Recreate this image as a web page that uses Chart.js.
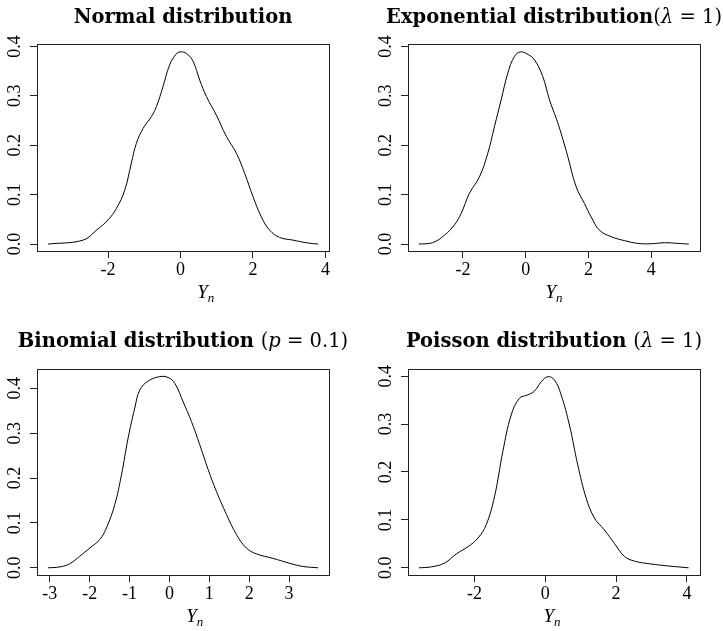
<!DOCTYPE html>
<html>
<head>
<meta charset="utf-8">
<script src="https://cdn.jsdelivr.net/npm/chart.js@4.4.0/dist/chart.umd.min.js"></script>
<style>
  html, body { margin: 0; padding: 0; background: #fff; }
  #wrap { position: relative; width: 723px; height: 631px; }
  #wrap canvas { position: absolute; }
</style>
</head>
<body>
<div id="wrap">
  <canvas id="c-normal" width="361" height="315" style="left:0;top:0"></canvas>
  <canvas id="c-exp" width="362" height="315" style="left:361px;top:0"></canvas>
  <canvas id="c-binom" width="361" height="316" style="left:0;top:315px"></canvas>
  <canvas id="c-pois" width="362" height="316" style="left:361px;top:315px"></canvas>
</div>
<script>
// density estimates
const normalX = [-3.655, -2.689, -2.321, -1.999, -1.769, -1.539, -1.355, -1.217, -1.033, -0.803, -0.665, -0.481, -0.297, -0.113, -0.012, 0.163, 0.347, 0.531, 0.715, 0.991, 1.267, 1.543, 1.773, 2.003, 2.233, 2.463, 2.739, 3.107, 3.477, 3.799];
const normalY = [0, 0.008, 0.028, 0.049, 0.072, 0.109, 0.164, 0.204, 0.234, 0.258, 0.278, 0.319, 0.363, 0.385, 0.389, 0.386, 0.370, 0.332, 0.299, 0.261, 0.218, 0.184, 0.143, 0.096, 0.055, 0.028, 0.0135, 0.008, 0.0027, 0];

const expX = [-3.405, -2.960, -2.588, -2.270, -2.057, -1.792, -1.474, -1.208, -0.996, -0.783, -0.571, -0.359, -0.168, 0.066, 0.278, 0.544, 0.756, 0.968, 1.127, 1.340, 1.605, 1.871, 2.083, 2.348, 2.720, 3.144, 3.569, 3.993, 4.418, 4.843, 5.193];
const expY = [0, 0.003, 0.018, 0.039, 0.062, 0.103, 0.136, 0.184, 0.238, 0.292, 0.346, 0.380, 0.389, 0.384, 0.373, 0.339, 0.292, 0.255, 0.224, 0.177, 0.116, 0.082, 0.055, 0.028, 0.015, 0.007, 0.0014, 0.0007, 0.0027, 0.0014, 0];

const binomX = [-3.042, -2.750, -2.499, -2.248, -1.997, -1.747, -1.579, -1.370, -1.203, -1.036, -0.869, -0.744, -0.535, -0.242, -0.033, 0.134, 0.343, 0.552, 0.761, 0.970, 1.179, 1.430, 1.681, 1.931, 2.182, 2.600, 3.018, 3.352, 3.728];
const binomY = [0, 0.002, 0.009, 0.026, 0.044, 0.063, 0.089, 0.141, 0.207, 0.289, 0.356, 0.396, 0.416, 0.426, 0.424, 0.411, 0.370, 0.326, 0.274, 0.219, 0.170, 0.119, 0.074, 0.044, 0.031, 0.021, 0.010, 0.003, 0];

const poisX = [-3.569, -3.221, -2.845, -2.516, -2.187, -1.905, -1.670, -1.435, -1.200, -0.965, -0.730, -0.494, -0.306, -0.118, 0.070, 0.258, 0.446, 0.681, 0.916, 1.152, 1.387, 1.669, 1.951, 2.233, 2.515, 2.985, 3.455, 4.048];
const poisY = [0, 0.002, 0.010, 0.029, 0.044, 0.062, 0.090, 0.149, 0.243, 0.319, 0.354, 0.361, 0.369, 0.388, 0.399, 0.392, 0.361, 0.298, 0.215, 0.146, 0.104, 0.079, 0.051, 0.024, 0.014, 0.008, 0.004, 0];

// tick labels
const yTicks = [0, 0.1, 0.2, 0.3, 0.4];
const normalTicks = [-2, 0, 2, 4];
const expTicks = [-2, 0, 2, 4];
const binomTicks = [-3, -2, -1, 0, 1, 2, 3];
const poisTicks = [-2, 0, 2, 4];

const TICK_FONT = "'Liberation Serif', 'Times New Roman', serif";
const TITLE_FONT = "'DejaVu Serif', serif";
const bold = `bold 19.5px ${TITLE_FONT}`;
const roman = `19.5px ${TITLE_FONT}`;
const ital = `italic 19.5px ${TITLE_FONT}`;

function drawRuns(ctx, runs, cx, y) {
  let total = 0;
  const w = runs.map(r => { ctx.font = r.font; const m = ctx.measureText(r.text).width; total += m; return m; });
  let x = cx - total / 2;
  ctx.textAlign = 'left';
  ctx.textBaseline = 'alphabetic';
  ctx.fillStyle = '#000';
  runs.forEach((r, i) => { ctx.font = r.font; ctx.fillText(r.text, x, y + (r.dy || 0)); x += w[i]; });
}

// box, title and x label (Y_n with subscript)
const panelDecor = {
  id: 'panelDecor',
  afterDraw(chart, args, o) {
    const { ctx, chartArea: a } = chart;
    ctx.save();
    ctx.strokeStyle = '#222';
    ctx.lineWidth = 1;
    ctx.strokeRect(Math.round(a.left) + 0.5, Math.round(a.top) + 0.5, Math.round(a.right - a.left), Math.round(a.bottom - a.top));
    const cx = (a.left + a.right) / 2;
    drawRuns(ctx, o.title, cx, o.titleY);
    drawRuns(ctx, [
      { text: 'Y', font: `italic 19px ${TICK_FONT}` },
      { text: 'n', font: `italic 13px ${TICK_FONT}`, dy: 3.5 }
    ], cx + o.labelShift, a.bottom + 47);
    ctx.restore();
  }
};

function makePanel(id, xs, ys, xTicks, xRange, yRange, box, title, titleY, labelShift) {
  new Chart(document.getElementById(id), {
    type: 'line',
    data: {
      datasets: [{
        data: xs.map((x, i) => ({ x: x, y: ys[i] })),
        borderColor: '#000',
        borderWidth: 1,
        pointRadius: 0,
        tension: 0.4,
        fill: false
      }]
    },
    options: {
      responsive: false,
      animation: false,
      devicePixelRatio: 1,
      layout: { padding: { left: 0, right: box.right, top: box.top, bottom: 0 } },
      plugins: {
        legend: { display: false },
        tooltip: { enabled: false },
        panelDecor: { title: title, titleY: titleY, labelShift: labelShift }
      },
      scales: {
        x: {
          type: 'linear',
          min: xRange[0], max: xRange[1],
          afterBuildTicks: s => { s.ticks = xTicks.map(v => ({ value: v })); },
          afterFit: s => { s.height = box.bottom; },
          grid: { drawOnChartArea: false, drawTicks: true, tickLength: 7, color: '#222' },
          border: { display: true, color: '#222' },
          ticks: { color: '#000', padding: 1, maxRotation: 0, font: { family: TICK_FONT, size: 18 }, callback: v => String(v) }
        },
        y: {
          type: 'linear',
          min: yRange[0], max: yRange[1],
          afterBuildTicks: s => { s.ticks = yTicks.map(v => ({ value: v })); },
          afterFit: s => { s.width = box.left; },
          grid: { drawOnChartArea: false, drawTicks: true, tickLength: 7, color: '#222' },
          border: { display: true, color: '#222' },
          ticks: { color: '#000', padding: 3, minRotation: 90, maxRotation: 90, crossAlign: 'center', font: { family: TICK_FONT, size: 18 }, callback: v => v.toFixed(1) }
        }
      }
    },
    plugins: [panelDecor]
  });
}

makePanel('c-normal', normalX, normalY, normalTicks, [-3.96, 4.10], [-0.014, 0.405],
  { left: 37, right: 32, top: 44, bottom: 64 },
  [{ text: 'Normal distribution', font: bold }], 22.7, 22.8);

makePanel('c-exp', expX, expY, expTicks, [-3.75, 5.55], [-0.014, 0.405],
  { left: 47, right: 23, top: 44, bottom: 64 },
  [{ text: 'Exponential distribution', font: bold }, { text: '(', font: roman }, { text: 'λ', font: ital }, { text: ' = 1)', font: roman }], 22.7, 0);

makePanel('c-binom', binomX, binomY, binomTicks, [-3.32, 4.0], [-0.016, 0.443],
  { left: 37, right: 32, top: 54, bottom: 56 },
  [{ text: 'Binomial distribution ', font: bold }, { text: '(', font: roman }, { text: 'p', font: ital }, { text: ' = 0.1)', font: roman }], 32.3, 11.7);

makePanel('c-pois', poisX, poisY, poisTicks, [-3.88, 4.37], [-0.015, 0.415],
  { left: 47, right: 23, top: 54, bottom: 56 },
  [{ text: 'Poisson distribution ', font: bold }, { text: '(', font: roman }, { text: 'λ', font: ital }, { text: ' = 1)', font: roman }], 32.3, -2);
</script>
</body>
</html>
